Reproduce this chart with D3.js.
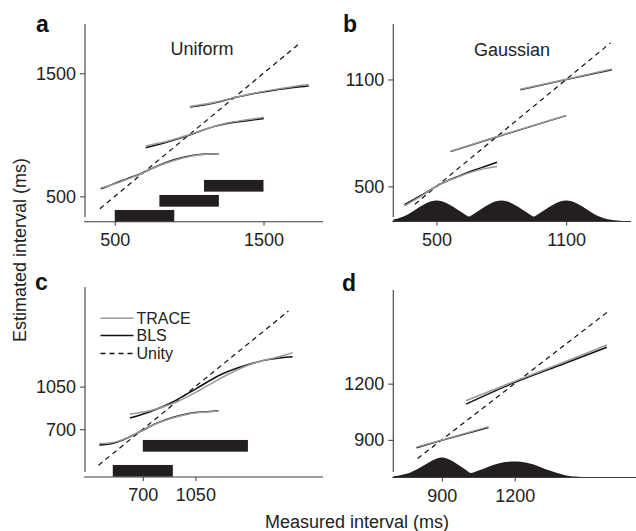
<!DOCTYPE html>
<html>
<head>
<meta charset="utf-8">
<script src="https://cdn.jsdelivr.net/npm/d3@7"></script>
<style>
  html, body { margin: 0; padding: 0; background: #fff; }
  svg { display: block; font-family: "Liberation Sans", Arial, Helvetica, sans-serif; }
</style>
</head>
<body>
<svg id="chart" width="636" height="531"></svg>
<script>
// ---------------- DATA ----------------
const panelLetters = ["a", "b", "c", "d"];
const panelTitles = ["Uniform", "Gaussian", "", ""];
const legendLabels = ["TRACE", "BLS", "Unity"];
const xAxisLabel = "Measured interval (ms)";
const yAxisLabel = "Estimated interval (ms)";

const ticksA = [500, 1500];
const ticksB = [500, 1100];
const ticksC = [700, 1050];
const ticksD = [900, 1200];

// unity line extents [from, to] (ms)
const unityA = [400, 1740];
const unityB = [400, 1305];
const unityC = [405, 1670];
const unityD = [800, 1590];

// panel a (uniform priors): [measured, estimated]
const blsA = [
  [[406,562],[450,580],[495,603],[585,644],[686,690],[786,747],[898,798],[1010,831],[1122,844],[1200,847]],
  [[708,895],[853,941],[999,996],[1122,1050],[1256,1091],[1390,1114],[1502,1132]],
  [[1005,1226],[1167,1259],[1301,1300],[1436,1335],[1570,1362],[1703,1384],[1804,1396]]
];
const traceA = [
  [[406,568],[450,582],[495,600],[585,640],[686,688],[786,745],[898,792],[1010,826],[1122,842],[1200,846]],
  [[708,910],[853,948],[999,1000],[1122,1052],[1256,1096],[1390,1122],[1502,1142]],
  [[1005,1230],[1167,1262],[1301,1302],[1436,1338],[1570,1367],[1703,1392],[1804,1408]]
];
// prior ranges [lo, hi, level]
const priorBarsA = [[500, 900, 342], [800, 1200, 464], [1100, 1500, 586]];

// panel b (gaussian priors)
const blsB = [
  [[352,397],[430,450],[518,513],[600,556],[672,590],[730,614],[780,635]],
  [[565,695],[785,780],[1100,897]],
  [[888,1042],[1100,1099],[1312,1154]]
];
const traceB = [
  [[352,391],[430,447],[518,513],[600,553],[672,584],[730,601],[780,612]],
  [[565,697],[785,781],[1100,898]],
  [[888,1045],[1100,1101],[1312,1158]]
];
// prior density [ms, relative height]
const densityB = [
  [300,.10],[325,.16],[350,.25],[375,.38],[400,.55],[425,.72],[450,.86],[475,.96],[500,1],
  [525,.96],[550,.86],[575,.72],[600,.55],[625,.38],[650,.24],[675,.38],[700,.55],[725,.72],
  [750,.86],[775,.96],[800,1],[825,.96],[850,.86],[875,.72],[900,.55],[925,.38],[950,.24],
  [975,.38],[1000,.55],[1025,.72],[1050,.86],[1075,.96],[1100,1],[1125,.96],[1150,.86],
  [1175,.72],[1200,.55],[1225,.38],[1250,.25],[1275,.16],[1300,.10],[1325,.06],[1350,.035],
  [1375,.02],[1400,.01]
];

// panel c (uniform priors, overlapping)
const blsC = [
  [[410,571],[504,585],[593,626],[693,688],[792,749],[903,798],[1014,831],[1125,844],[1203,852]],
  [[615,792],[748,844],[903,926],[1059,1036],[1214,1145],[1392,1227],[1547,1274],[1698,1295]]
];
const traceC = [
  [[410,583],[504,592],[593,628],[693,689],[792,747],[903,795],[1014,828],[1125,842],[1203,850]],
  [[615,825],[748,852],[903,913],[1081,1022],[1259,1145],[1436,1241],[1592,1290],[1698,1328]]
];
const priorBarsC = [[500, 900, 359], [700, 1400, 564]];

// panel d (gaussian priors, unequal widths)
const blsD = [
  [[796,858],[900,897],[1092,966]],
  [[1000,1091],[1189,1200],[1400,1305],[1580,1394]]
];
const traceD = [
  [[796,861],[900,899],[1092,970]],
  [[1000,1109],[1189,1207],[1400,1313],[1580,1406]]
];
const densityD = [
  [700,.06],[725,.10],[750,.17],[775,.28],[800,.42],[825,.60],[850,.78],[875,.93],[900,1],
  [925,.93],[950,.78],[975,.58],[1000,.38],[1020,.23],[1040,.30],[1075,.45],[1100,.57],
  [1125,.67],[1150,.75],[1175,.79],[1200,.80],[1225,.79],[1250,.74],[1275,.66],[1300,.55],
  [1325,.43],[1350,.32],[1375,.22],[1400,.14],[1425,.08],[1450,.045],[1500,.015],[1550,.005],
  [1600,.002],[1700,0]
];

// ---------------- LAYOUT ----------------
const panels = [
  { letter: panelLetters[0], title: panelTitles[0], ticks: ticksA, unity: unityA, bls: blsA, trace: traceA, bars: priorBarsA,
    xd: [300,1900], xr: [85,323], yd: [300,1900], yr: [221,24], axY: 221.7, axX: 85, yTop: 24, yBot: 217,
    lx: 36, ly: 32, tx: 202, ty: 55 },
  { letter: panelLetters[1], title: panelTitles[1], ticks: ticksB, unity: unityB, bls: blsB, trace: traceB, density: densityB, dh: 21,
    xd: [300,1400], xr: [393.3,631], yd: [300,1400], yr: [222,26], axY: 221.5, axX: 393.3, yTop: 24, yBot: 217,
    lx: 343, ly: 32, tx: 512, ty: 56 },
  { letter: panelLetters[2], title: panelTitles[2], ticks: ticksC, unity: unityC, bls: blsC, trace: traceC, bars: priorBarsC, legend: true,
    xd: [315,1900], xr: [85,323], yd: [300,1900], yr: [478,283], axY: 477, axX: 85, yTop: 287, yBot: 472,
    lx: 35, ly: 290 },
  { letter: panelLetters[3], title: panelTitles[3], ticks: ticksD, unity: unityD, bls: blsD, trace: traceD, density: densityD, dh: 20,
    xd: [700,1700], xr: [393.3,636], yd: [700,1700], yr: [477.3,290], axY: 477.5, axX: 393.3, yTop: 290, yBot: 472,
    lx: 342, ly: 290.5 }
];

const svg = d3.select("#chart");
const INK = "#231f20";
const GREY = "#9a9a9a";
const AXC = "#3a3a3a";
const FS = 18;

panels.forEach(p => {
  const x = d3.scaleLinear().domain(p.xd).range(p.xr);
  const y = d3.scaleLinear().domain(p.yd).range(p.yr);
  const g = svg.append("g");

  // prior bars
  if (p.bars) {
    g.selectAll("rect.bar").data(p.bars).enter().append("rect")
      .attr("x", d => x(d[0])).attr("width", d => x(d[1]) - x(d[0]))
      .attr("y", d => y(d[2]) - 5.85).attr("height", 11.7)
      .attr("fill", INK);
  }
  // prior density
  if (p.density) {
    const area = d3.area()
      .x(d => x(d[0])).y0(p.axY).y1(d => p.axY - d[1] * p.dh)
      .curve(d3.curveMonotoneX);
    g.append("path").datum(p.density).attr("d", area).attr("fill", INK);
  }

  // axes
  const xAxis = d3.axisBottom(x).tickValues(p.ticks).tickSize(4).tickPadding(5).tickFormat(d3.format("d"));
  const gx = g.append("g").attr("transform", `translate(0,${p.axY})`).call(xAxis);
  gx.select(".domain").remove();
  gx.append("line").attr("x1", p.xr[0] - 1).attr("x2", p.xr[1]).attr("y1", 0).attr("y2", 0)
    .attr("stroke", AXC).attr("stroke-width", 1.1);
  gx.selectAll(".tick line").attr("stroke", AXC);
  gx.selectAll(".tick text").attr("font-size", FS).attr("fill", "#222")
    .attr("font-family", "Liberation Sans, Arial, sans-serif").attr("dy", "0.85em");

  const yAxis = d3.axisLeft(y).tickValues(p.ticks).tickSize(5).tickPadding(4).tickFormat(d3.format("d"));
  const gy = g.append("g").attr("transform", `translate(${p.axX},0)`).call(yAxis);
  gy.select(".domain").remove();
  gy.append("line").attr("x1", 0).attr("x2", 0).attr("y1", p.yTop).attr("y2", p.yBot)
    .attr("stroke", AXC).attr("stroke-width", 1.1);
  gy.selectAll(".tick line").attr("stroke", AXC);
  gy.selectAll(".tick text").attr("font-size", FS).attr("fill", "#222")
    .attr("font-family", "Liberation Sans, Arial, sans-serif");

  // unity
  g.append("line")
    .attr("x1", x(p.unity[0])).attr("y1", y(p.unity[0]))
    .attr("x2", x(p.unity[1])).attr("y2", y(p.unity[1]))
    .attr("stroke", "#111").attr("stroke-width", 1.2).attr("stroke-dasharray", "5,4");

  const line = d3.line().x(d => x(d[0])).y(d => y(d[1])).curve(d3.curveMonotoneX);
  g.selectAll("path.bls").data(p.bls).enter().append("path")
    .attr("d", line).attr("fill", "none").attr("stroke", "#111").attr("stroke-width", 1.5);
  g.selectAll("path.trace").data(p.trace).enter().append("path")
    .attr("d", line).attr("fill", "none").attr("stroke", GREY).attr("stroke-width", 1.5);

  // title
  if (p.title) {
    g.append("text").attr("x", p.tx).attr("y", p.ty).attr("text-anchor", "middle")
      .attr("font-size", FS).attr("fill", "#222").text(p.title);
  }
  // letter
  g.append("text").attr("x", p.lx).attr("y", p.ly).attr("font-size", 23).attr("font-weight", "bold")
    .attr("fill", "#111").text(p.letter);

  // legend
  if (p.legend) {
    const ly = [318.3, 335.5, 353.5];
    const styles = [{ c: GREY, d: null }, { c: "#111", d: null }, { c: "#111", d: "5,4" }];
    legendLabels.forEach((lab, i) => {
      g.append("line").attr("x1", 100.5).attr("x2", 133.5).attr("y1", ly[i]).attr("y2", ly[i])
        .attr("stroke", styles[i].c).attr("stroke-width", 1.4)
        .attr("stroke-dasharray", styles[i].d);
      g.append("text").attr("x", 136.5).attr("y", ly[i]).attr("dy", "0.36em")
        .attr("font-size", 16).attr("fill", "#222").text(lab);
    });
  }
});

// shared axis labels
svg.append("text").attr("x", 357).attr("y", 528).attr("text-anchor", "middle")
  .attr("font-size", FS).attr("fill", "#222").text(xAxisLabel);
svg.append("text").attr("transform", "translate(25.5,250) rotate(-90)").attr("text-anchor", "middle")
  .attr("font-size", FS).attr("fill", "#222").text(yAxisLabel);
</script>
</body>
</html>
